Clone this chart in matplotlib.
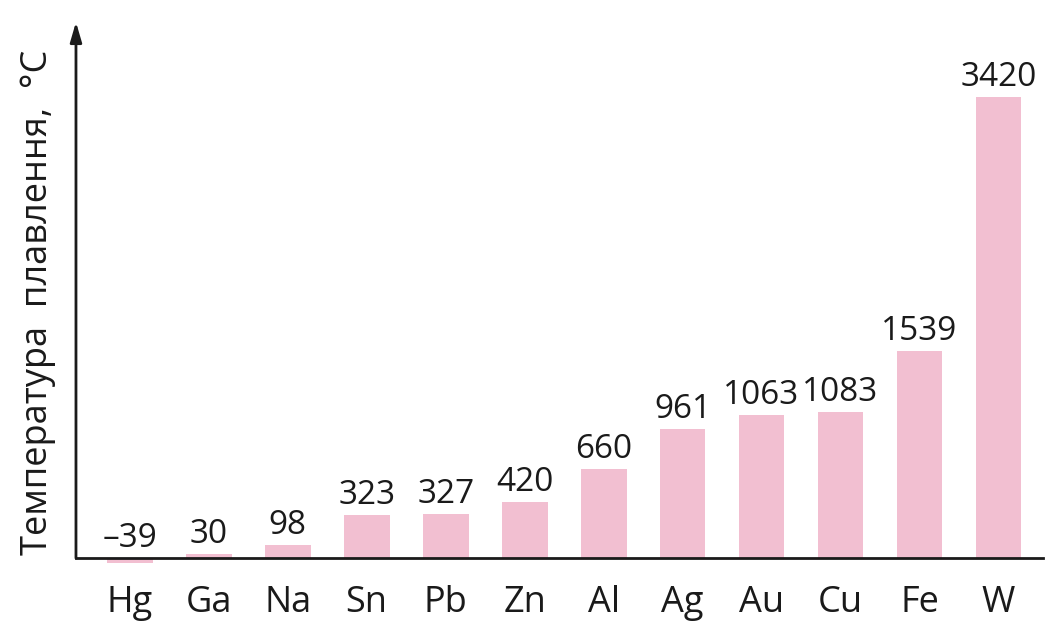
import numpy as np
import matplotlib
matplotlib.use("Agg")
import matplotlib.pyplot as plt

# Температури плавлення металів, °C
metals = ["Hg", "Ga", "Na", "Sn", "Pb", "Zn", "Al", "Ag", "Au", "Cu", "Fe", "W"]
melting_points = [-39, 30, 98, 323, 327, 420, 660, 961, 1063, 1083, 1539, 3420]

bar_color = "#f2bfd1"
text_color = "#1a1a1a"
plt.rcParams["font.family"] = ["Open Sans", "DejaVu Sans"]

fig = plt.figure(figsize=(10.48, 6.3), dpi=100)
ax = fig.add_axes([0.0725, 0.099, 0.9225, 0.866])

x = np.arange(len(metals))
ax.bar(x, melting_points, width=0.58, color=bar_color, zorder=1)

for xi, v in zip(x, melting_points):
    label = str(v).replace("-", "\u2013")
    ax.text(xi, max(v, 0) + 20, label, ha="center", va="bottom",
            fontsize=24, color=text_color)

ymin, ymax = -70, 3976
ax.set_xlim(-0.68, 11.56)
ax.set_ylim(ymin, ymax)

# осі: горизонтальна по нулю, вертикальна зі стрілкою
for side in ["top", "right", "left"]:
    ax.spines[side].set_visible(False)
ax.spines["bottom"].set_position(("data", 0))
ax.spines["bottom"].set_linewidth(2)
ax.spines["bottom"].set_color(text_color)
ax.annotate("", xy=(-0.68, ymax), xytext=(-0.68, 0),
            arrowprops=dict(arrowstyle="-|>,head_length=1.2,head_width=0.35",
                            color=text_color, lw=2, shrinkA=0, shrinkB=0),
            annotation_clip=False)

ax.set_yticks([])
ax.set_xticks(x)
ax.set_xticklabels(metals, fontsize=26, color=text_color)
ax.tick_params(axis="x", length=0, pad=19)

fig.text(38 / 1048, 1 - 302 / 630, "Температура  плавлення,  °C", rotation=90,
         ha="center", va="center", fontsize=26, color=text_color)

fig.savefig("out.png", dpi=100)
